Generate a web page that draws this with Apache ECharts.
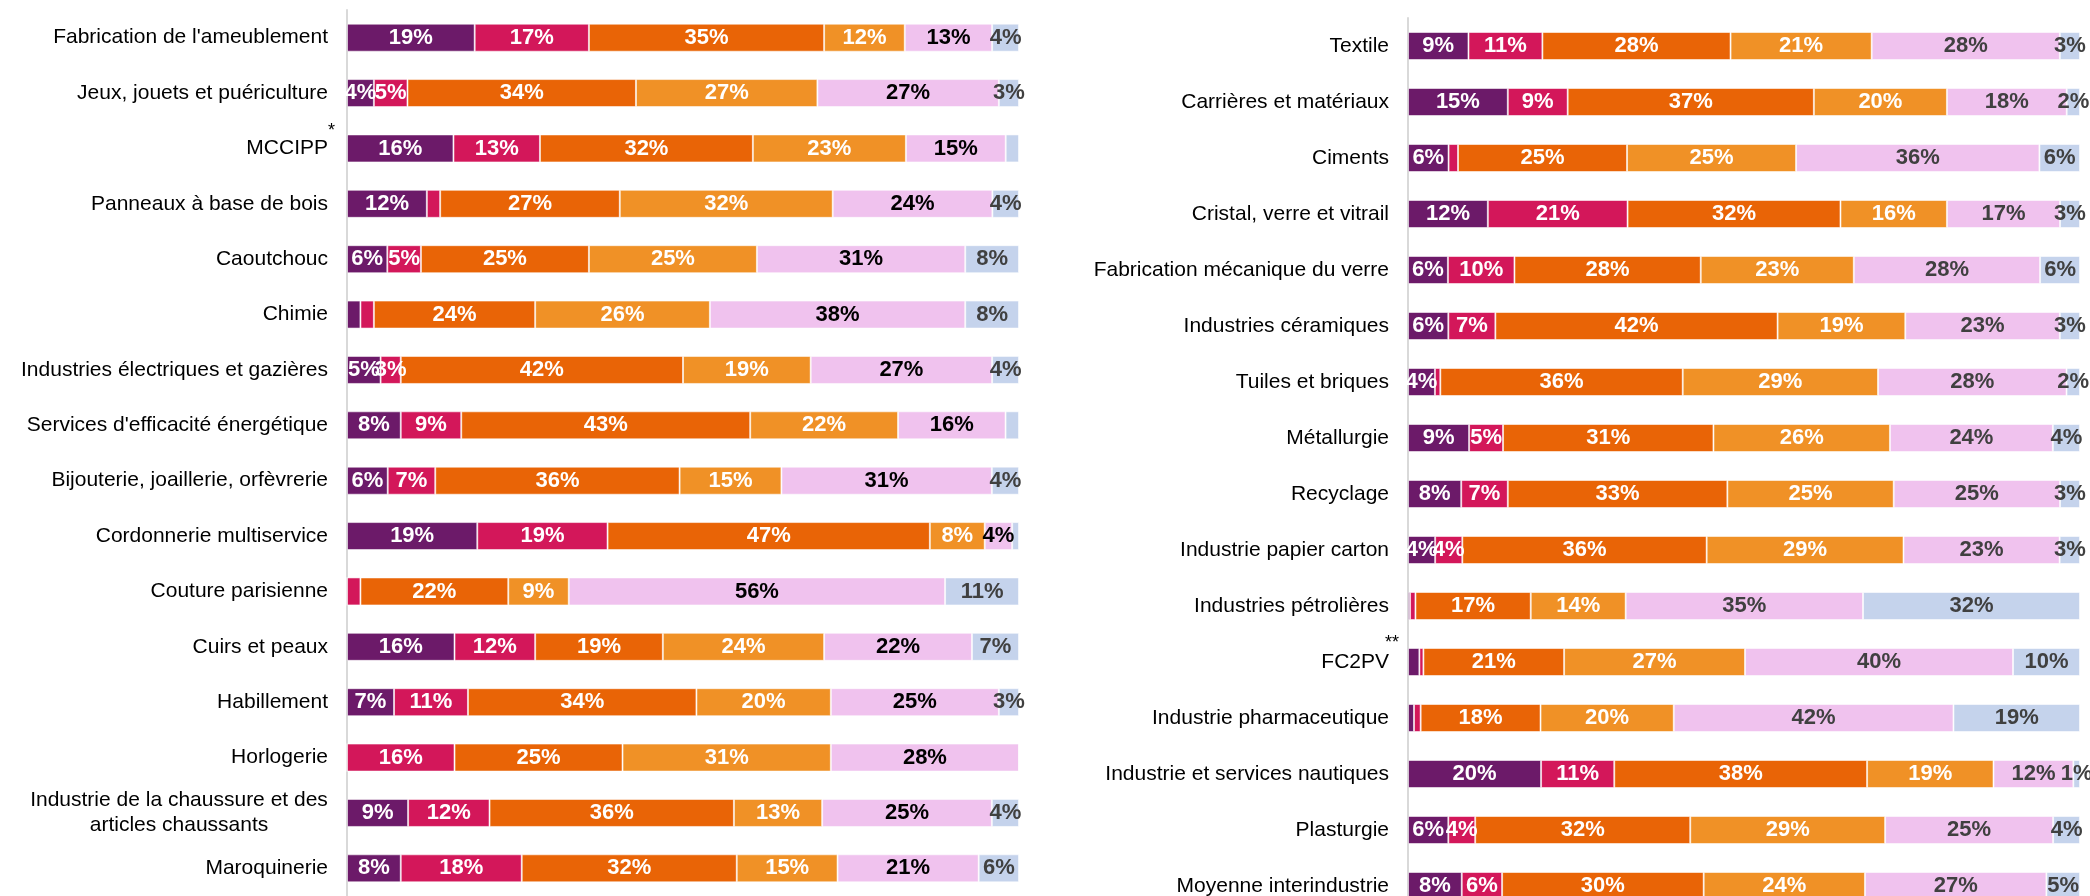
<!DOCTYPE html>
<html>
<head>
<meta charset="utf-8">
<title>Répartition par branche</title>
<script src="https://cdn.jsdelivr.net/npm/echarts@6.0.0/dist/echarts.min.js"></script>
<style>
  html, body { margin: 0; padding: 0; background: #fff; overflow: hidden; }
  #main { width: 2090px; height: 914px; }
</style>
</head>
<body>
<div id="main"></div>
<script>
var FONT = '"Liberation Sans", Arial, sans-serif';

var seriesNames = ['Tranche 1', 'Tranche 2', 'Tranche 3', 'Tranche 4', 'Tranche 5', 'Tranche 6'];
var seriesColors = ['#6c1a69', '#d3175a', '#e96406', '#f09126', '#f0c2ee', '#c5d3ec'];

// panneau de gauche
var leftCats = [
    "Fabrication de l'ameublement",
    'Jeux, jouets et puériculture',
    'MCCIPP',
    'Panneaux à base de bois',
    'Caoutchouc',
    'Chimie',
    'Industries électriques et gazières',
    "Services d'efficacité énergétique",
    'Bijouterie, joaillerie, orfèvrerie',
    'Cordonnerie multiservice',
    'Couture parisienne',
    'Cuirs et peaux',
    'Habillement',
    'Horlogerie',
    'Industrie de la chaussure et des\narticles chaussants',
    'Maroquinerie'
];
var leftS1 = [19, 4, 16, 12, 6, 2, 5, 8, 6, 19, 0, 16, 7, 0, 9, 8];
var leftS2 = [17, 5, 13, 2, 5, 2, 3, 9, 7, 19, 2, 12, 11, 16, 12, 18];
var leftS3 = [35, 34, 32, 27, 25, 24, 42, 43, 36, 47, 22, 19, 34, 25, 36, 32];
var leftS4 = [12, 27, 23, 32, 25, 26, 19, 22, 15, 8, 9, 24, 20, 31, 13, 15];
var leftS5 = [13, 27, 15, 24, 31, 38, 27, 16, 31, 4, 56, 22, 25, 28, 25, 21];
var leftS6 = [4, 3, 2, 4, 8, 8, 4, 2, 4, 1, 11, 7, 3, 0, 4, 6];
// segments sans étiquette : [catégorie, index de série]
var leftNoLabel = [
    ['MCCIPP', 5], ['Panneaux à base de bois', 1], ['Chimie', 0], ['Chimie', 1],
    ["Services d'efficacité énergétique", 5], ['Cordonnerie multiservice', 5], ['Couture parisienne', 1]
];

// panneau de droite
var rightCats = [
    'Textile',
    'Carrières et matériaux',
    'Ciments',
    'Cristal, verre et vitrail',
    'Fabrication mécanique du verre',
    'Industries céramiques',
    'Tuiles et briques',
    'Métallurgie',
    'Recyclage',
    'Industrie papier carton',
    'Industries pétrolières',
    'FC2PV',
    'Industrie pharmaceutique',
    'Industrie et services nautiques',
    'Plasturgie',
    'Moyenne interindustrie'
];
var rightS1 = [9, 15, 6, 12, 6, 6, 4, 9, 8, 4, 0.3, 1.7, 0.9, 20, 6, 8];
var rightS2 = [11, 9, 1.4, 21, 10, 7, 0.8, 5, 7, 4, 0.8, 0.6, 1, 11, 4, 6];
var rightS3 = [28, 37, 25, 32, 28, 42, 36, 31, 33, 36, 17, 21, 18, 38, 32, 30];
var rightS4 = [21, 20, 25, 16, 23, 19, 29, 26, 25, 29, 14, 27, 20, 19, 29, 24];
var rightS5 = [28, 18, 36, 17, 28, 23, 28, 24, 25, 23, 35, 40, 42, 12, 25, 27];
var rightS6 = [3, 2, 6, 3, 6, 3, 2, 4, 3, 3, 32, 10, 19, 1, 4, 5];
var rightNoLabel = [
    ['Ciments', 1], ['Tuiles et briques', 1], ['Industries pétrolières', 0], ['Industries pétrolières', 1],
    ['FC2PV', 0], ['FC2PV', 1], ['Industrie pharmaceutique', 0], ['Industrie pharmaceutique', 1]
];

var leftLabelColors = ['#fff', '#fff', '#fff', '#fff', '#000', '#404040'];
var rightLabelColors = ['#fff', '#fff', '#fff', '#fff', '#404040', '#404040'];

function isHidden(list, cat, k){
    for(var i = 0; i < list.length; i++){
        if(list[i][0] == cat && list[i][1] == k) return true;
    }
    return false;
}

function buildSeries(vals, cats, noLabel, idx, labelColors){
    var sums = cats.map(function(c, i){
        var s = 0;
        for(var k = 0; k < vals.length; k++) s += vals[k][i];
        return s;
    });
    return vals.map(function(arr, k){
        return {
            type: 'bar',
            name: seriesNames[k],
            stack: 'p' + idx,
            xAxisIndex: idx,
            yAxisIndex: idx,
            barWidth: 28,
            itemStyle: { color: seriesColors[k], borderColor: 'rgba(255,255,255,0.55)', borderWidth: 1 },
            label: {
                show: true,
                position: 'inside',
                color: labelColors[k],
                fontFamily: FONT,
                fontWeight: 'bold',
                fontSize: 22,
                formatter: function(p){ return p.data.raw + '%'; }
            },
            data: cats.map(function(c, i){
                var item = { value: arr[i] / sums[i] * 100, raw: arr[i] };
                if(arr[i] === 0 || isHidden(noLabel, c, k)){
                    item.label = { show: false };
                }
                return item;
            })
        };
    });
}

// largeur de la première ligne pour centrer le libellé sur deux lignes
var ctx = document.createElement('canvas').getContext('2d');
ctx.font = '21px ' + FONT;
var wrapWidth = Math.ceil(ctx.measureText('Industrie de la chaussure et des').width);

function catFormatter(value){
    if(value.indexOf('\n') >= 0){
        return value.split('\n').map(function(l){ return '{c|' + l + '}'; }).join('\n');
    }
    return value;
}

function yAxisFor(cats, idx){
    return {
        type: 'category',
        gridIndex: idx,
        data: cats,
        inverse: true,
        axisTick: { show: false },
        axisLine: { show: true, lineStyle: { color: '#d9d9d9', width: 2 } },
        axisLabel: {
            margin: 19,
            color: '#000',
            fontFamily: FONT,
            fontSize: 21,
            formatter: catFormatter,
            rich: {
                c: { width: wrapWidth, align: 'center', fontFamily: FONT, fontSize: 21, color: '#000', lineHeight: 25 }
            }
        }
    };
}

function xAxisFor(idx){
    return {
        type: 'value',
        gridIndex: idx,
        min: 0,
        max: 100,
        show: false
    };
}

var myChart = echarts.init(document.getElementById('main'));

// le conteneur dépasse de la fenêtre : le panneau de droite est coupé en bas
myChart.setOption({
    backgroundColor: '#fff',
    animation: false,
    grid: [
        { left: 347, top: 10, width: 672, height: 886 },
        { left: 1408, top: 18, width: 672, height: 896 }
    ],
    xAxis: [xAxisFor(0), xAxisFor(1)],
    yAxis: [yAxisFor(leftCats, 0), yAxisFor(rightCats, 1)],
    series: buildSeries([leftS1, leftS2, leftS3, leftS4, leftS5, leftS6], leftCats, leftNoLabel, 0, leftLabelColors)
        .concat(buildSeries([rightS1, rightS2, rightS3, rightS4, rightS5, rightS6], rightCats, rightNoLabel, 1, rightLabelColors))
});

// renvois (astérisques) au-dessus de certains libellés
var yM = myChart.convertToPixel({ yAxisIndex: 0 }, 'MCCIPP');
var yF = myChart.convertToPixel({ yAxisIndex: 1 }, 'FC2PV');
myChart.setOption({
    graphic: [
        { type: 'text', x: 347 - 19, y: yM - 17, style: { text: '*', font: '18px ' + FONT, fill: '#000', textAlign: 'left', textVerticalAlign: 'middle' } },
        { type: 'text', x: 1408 - 23, y: yF - 19, style: { text: '**', font: '18px ' + FONT, fill: '#000', textAlign: 'left', textVerticalAlign: 'middle' } }
    ]
});
</script>
</body>
</html>
